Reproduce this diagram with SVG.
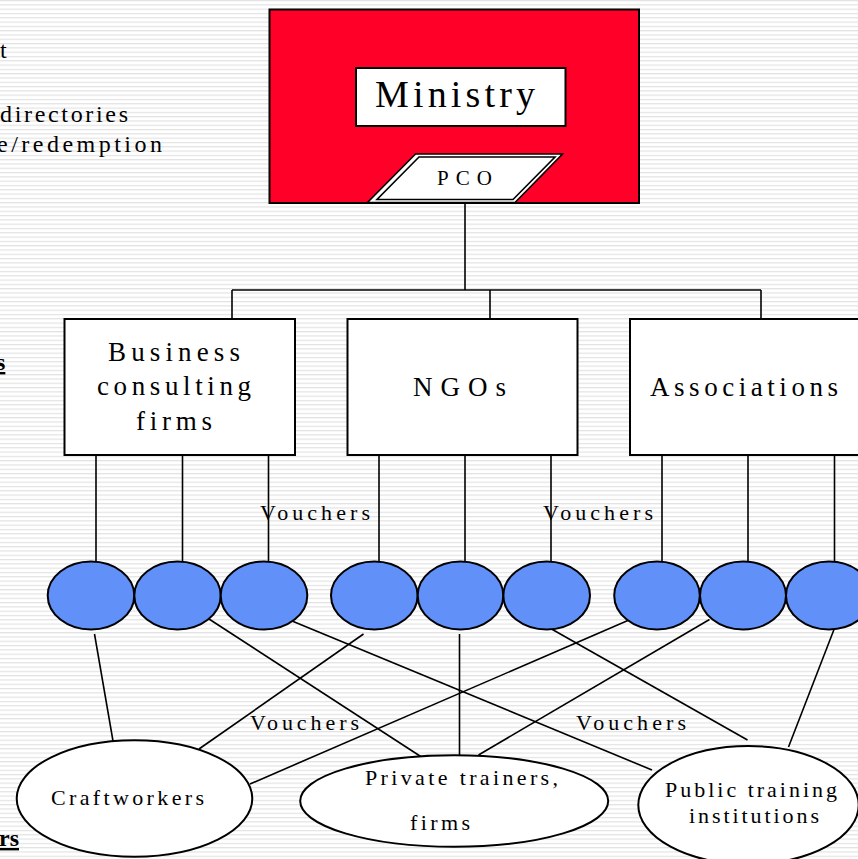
<svg xmlns="http://www.w3.org/2000/svg" width="858" height="859" viewBox="0 0 858 859">
<defs>
<pattern id="stripes" width="8" height="4.3" patternUnits="userSpaceOnUse">
<rect x="0" y="0" width="8" height="1.2" fill="#e2e2e2"/>
</pattern>
<style>
text{font-family:"Liberation Serif","Times New Roman",serif;fill:#000}
.box{fill:#fff;stroke:#000;stroke-width:2}
.blue{fill:#6090f8;stroke:#000;stroke-width:2}
.oval{fill:#fff;stroke:#000;stroke-width:2}
.ln{stroke:#000;stroke-width:1.6;fill:none}
.lbl{font-size:22px}
.big{font-size:27px}
.side{font-size:24px}
</style>
</defs>
<rect x="0" y="0" width="858" height="859" fill="#fff"/>
<rect x="0" y="0" width="858" height="859" fill="url(#stripes)"/>

<g id="side-text">
<text class="side" x="0" y="58">t</text>
<text class="side" x="0" y="122" textLength="128" lengthAdjust="spacing">directories</text>
<text class="side" x="-3" y="152" textLength="165" lengthAdjust="spacing">e/redemption</text>
<text class="side" x="-4" y="370" font-weight="bold" text-decoration="underline">s</text>
<text class="side" x="-1" y="846" font-size="27" font-weight="bold" text-decoration="underline">rs</text>
</g>

<g id="connectors">
<line class="ln" x1="465" y1="203" x2="465" y2="290"/>
<line class="ln" x1="232" y1="290" x2="761" y2="290"/>
<line class="ln" x1="232" y1="290" x2="232" y2="319"/>
<line class="ln" x1="490" y1="290" x2="490" y2="319"/>
<line class="ln" x1="761" y1="290" x2="761" y2="319"/>
<line class="ln" x1="96" y1="455" x2="96" y2="561"/>
<line class="ln" x1="182.5" y1="455" x2="182.5" y2="561"/>
<line class="ln" x1="268.5" y1="455" x2="268.5" y2="561"/>
<line class="ln" x1="379" y1="455" x2="379" y2="561"/>
<line class="ln" x1="465" y1="455" x2="465" y2="561"/>
<line class="ln" x1="551" y1="455" x2="551" y2="561"/>
<line class="ln" x1="662" y1="455" x2="662" y2="561"/>
<line class="ln" x1="748" y1="455" x2="748" y2="561"/>
<line class="ln" x1="834.5" y1="455" x2="834.5" y2="561"/>
<line class="ln" x1="94.5" y1="634" x2="113" y2="741"/>
<line class="ln" x1="209" y1="619" x2="421.5" y2="757"/>
<line class="ln" x1="286" y1="618.5" x2="652" y2="770"/>
<line class="ln" x1="363.5" y1="634" x2="199" y2="749"/>
<line class="ln" x1="459.5" y1="634" x2="459.5" y2="755"/>
<line class="ln" x1="551.5" y1="629" x2="747.5" y2="740"/>
<line class="ln" x1="632.5" y1="618.5" x2="250" y2="784"/>
<line class="ln" x1="709.5" y1="619.5" x2="478.5" y2="755"/>
<line class="ln" x1="834" y1="629.5" x2="788.5" y2="747"/>
</g>

<g id="ministry">
<rect x="269.5" y="9.5" width="369.5" height="193.5" fill="#ff0028" stroke="#000" stroke-width="2"/>
<rect class="box" x="356" y="68" width="209.5" height="58"/>
<text x="375" y="107" font-size="38" textLength="160" lengthAdjust="spacing">Ministry</text>
</g>

<g id="pco">
<polygon points="415.5,154 562.5,154 515,202.5 367.5,202.5" fill="#fff" stroke="#000" stroke-width="1.6"/>
<polygon points="419,157 555,157 513,199.5 377,199.5" fill="none" stroke="#000" stroke-width="1.6"/>
<text x="437" y="185" font-size="21" textLength="55" lengthAdjust="spacing">PCO</text>
</g>

<g id="business">
<rect class="box" x="64.5" y="319" width="230.5" height="136"/>
<text class="big" x="108" y="361" textLength="132" lengthAdjust="spacing">Business</text>
<text class="big" x="97" y="395" textLength="154" lengthAdjust="spacing">consulting</text>
<text class="big" x="136" y="430" textLength="76" lengthAdjust="spacing">firms</text>
</g>

<g id="ngos">
<rect class="box" x="347.5" y="319" width="230" height="136"/>
<text class="big" x="413" y="396" textLength="93" lengthAdjust="spacing">NGOs</text>
</g>

<g id="associations">
<rect class="box" x="630" y="319" width="232" height="136"/>
<text class="big" x="650" y="396" textLength="188" lengthAdjust="spacing">Associations</text>
</g>

<g id="voucher-nodes">
<ellipse class="blue" cx="91" cy="595.5" rx="43.3" ry="34"/>
<ellipse class="blue" cx="177.5" cy="595.5" rx="43.2" ry="34"/>
<ellipse class="blue" cx="264" cy="595.5" rx="43.3" ry="34"/>
<ellipse class="blue" cx="374.3" cy="595.5" rx="43.3" ry="34"/>
<ellipse class="blue" cx="460.5" cy="595.5" rx="42.8" ry="34"/>
<ellipse class="blue" cx="546.7" cy="595.5" rx="43.3" ry="34"/>
<ellipse class="blue" cx="657" cy="595.5" rx="42.8" ry="34"/>
<ellipse class="blue" cx="743" cy="595.5" rx="43" ry="34"/>
<ellipse class="blue" cx="829" cy="595.5" rx="43" ry="34"/>
</g>

<g id="voucher-labels">
<text class="lbl" x="260" y="520" textLength="110" lengthAdjust="spacing">Vouchers</text>
<text class="lbl" x="543" y="520" textLength="110" lengthAdjust="spacing">Vouchers</text>
<text class="lbl" x="250" y="730" textLength="109" lengthAdjust="spacing">Vouchers</text>
<text class="lbl" x="576" y="730" textLength="110" lengthAdjust="spacing">Vouchers</text>
</g>

<g id="craftworkers">
<ellipse class="oval" cx="134.5" cy="798.5" rx="117.8" ry="58.3"/>
<text class="lbl" x="51" y="805" font-size="21" textLength="153" lengthAdjust="spacing">Craftworkers</text>
</g>

<g id="private-trainers">
<ellipse class="oval" cx="454.2" cy="801" rx="154" ry="45.8"/>
<text class="lbl" x="365" y="785" textLength="193" lengthAdjust="spacing">Private  trainers,</text>
<text class="lbl" x="410" y="830" textLength="60" lengthAdjust="spacing">firms</text>
</g>

<g id="public-training">
<ellipse class="oval" cx="748.5" cy="805" rx="110.2" ry="59"/>
<text class="lbl" x="665" y="797" textLength="172" lengthAdjust="spacing">Public training</text>
<text class="lbl" x="689" y="823" textLength="130" lengthAdjust="spacing">institutions</text>
</g>
</svg>
